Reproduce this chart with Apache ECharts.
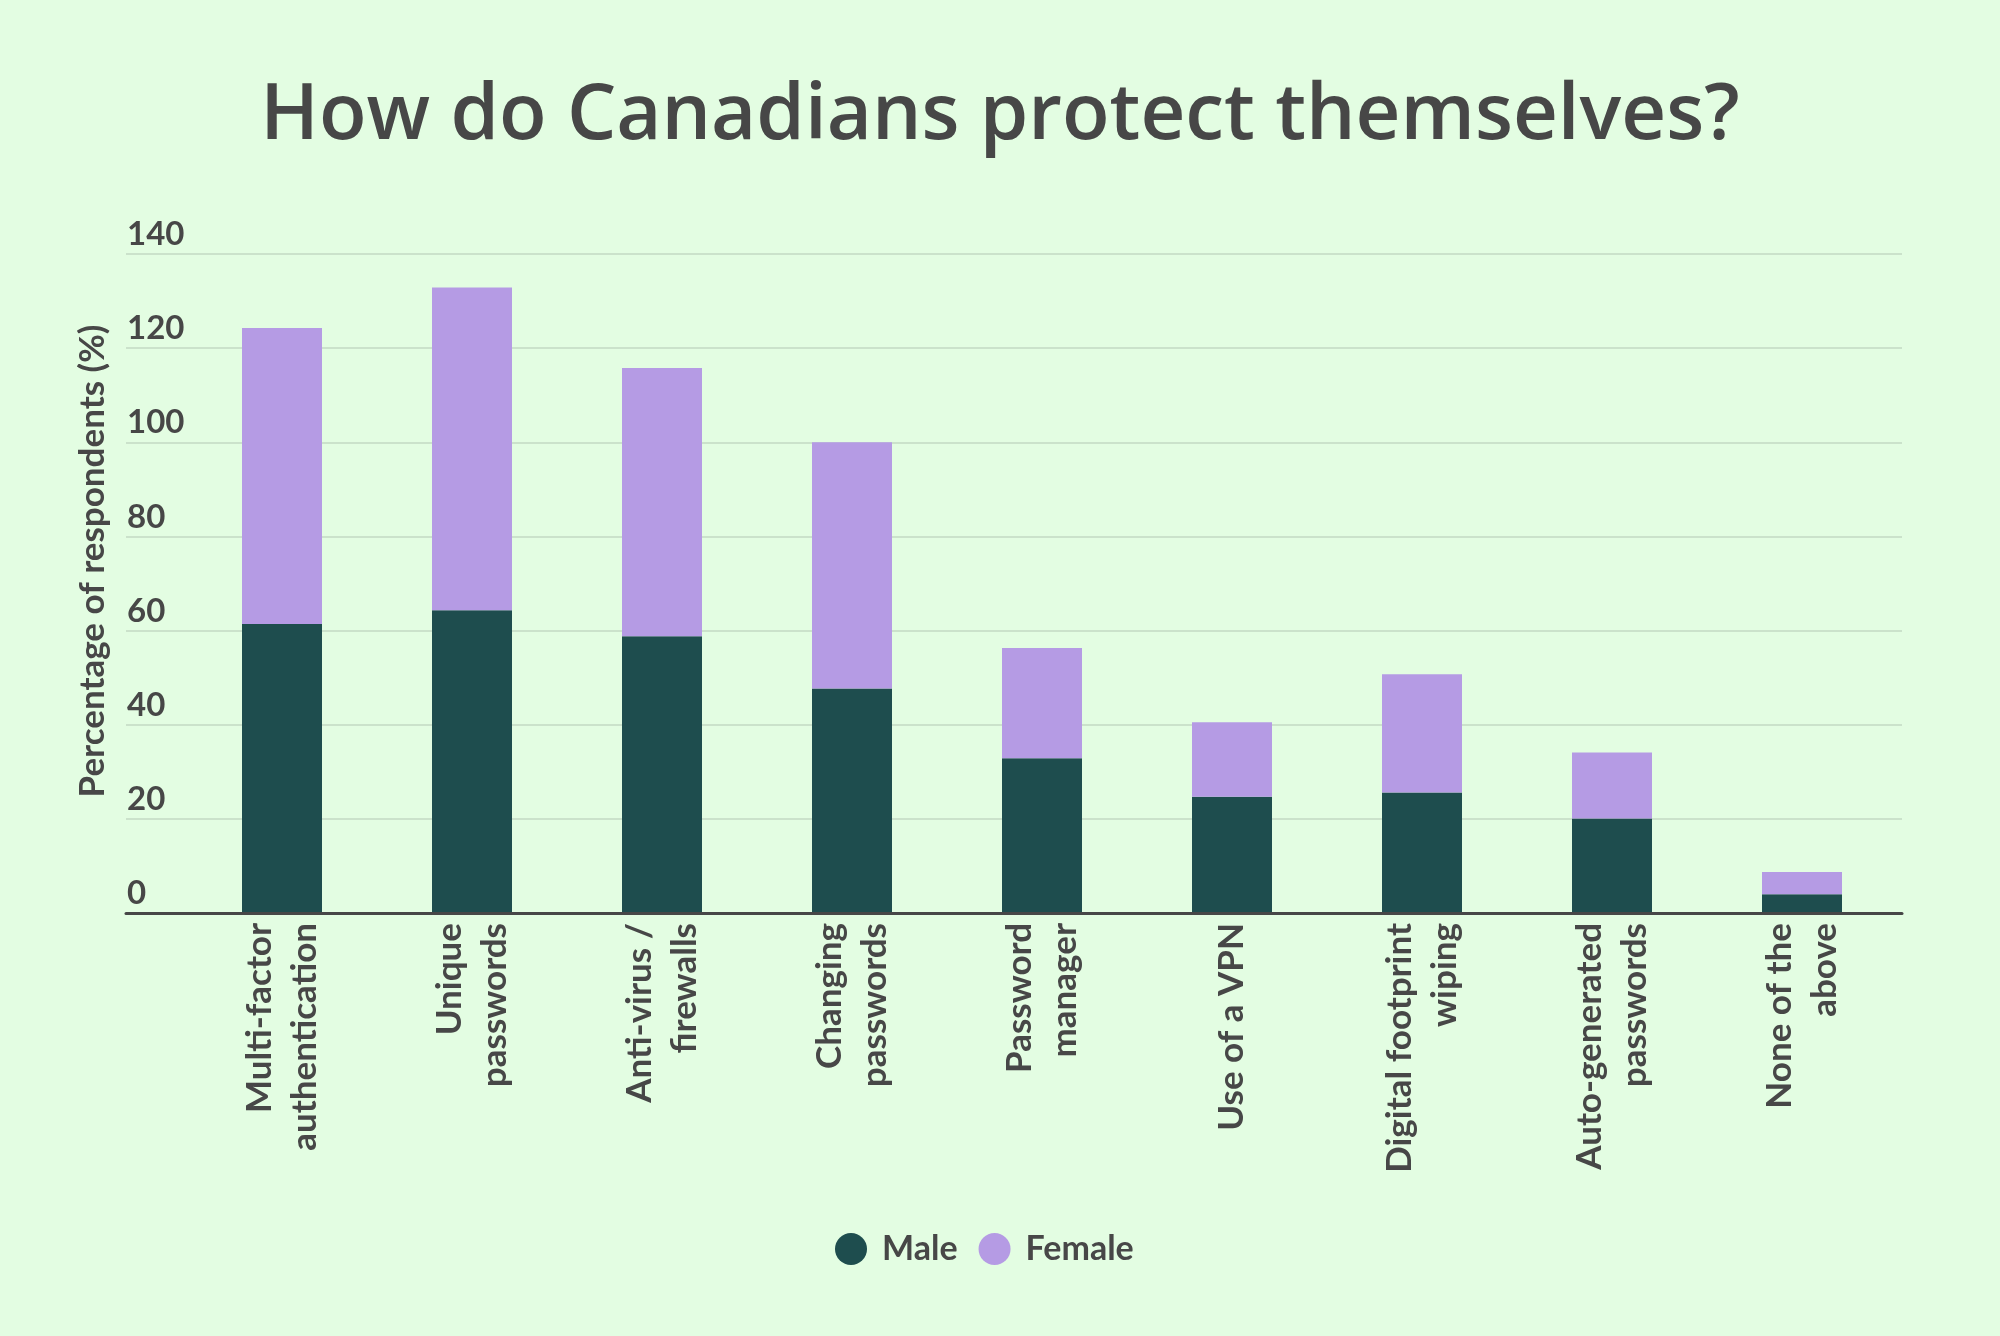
<!DOCTYPE html>
<html>
<head>
<meta charset="utf-8">
<script src="https://cdn.jsdelivr.net/npm/echarts@6/dist/echarts.min.js"></script>
<style>
html,body{margin:0;padding:0;background:#E3FDE2;}
#chart{width:2000px;height:1336px;}
</style>
</head>
<body>
<div id="chart"></div>
<script>
const categories = ['Multi-factor\nauthentication','Unique\npasswords','Anti-virus /\nfirewalls','Changing\npasswords','Password\nmanager','Use of a VPN','Digital footprint\nwiping','Auto-generated\npasswords','None of the\nabove'];
const maleValues = [61.4, 64.3, 58.8, 47.7, 32.9, 24.7, 25.6, 20.1, 4.0];
const femaleValues = [62.9, 68.6, 57.0, 52.3, 23.4, 15.8, 25.1, 14.0, 4.7];
const yTicks = {min: 0, max: 140, interval: 20};

const textColor = '#474747';
const chart = echarts.init(document.getElementById('chart'));
chart.setOption({
  backgroundColor: '#E3FDE2',
  title: {
    text: 'How do Canadians protect themselves?',
    left: 'center',
    top: 73,
    textStyle: {fontFamily: 'Open Sans', fontWeight: 600, fontSize: 78, color: textColor}
  },
  legend: {
    data: ['Male', 'Female'],
    left: 830,
    top: 1227,
    icon: 'circle',
    itemWidth: 32,
    itemHeight: 32,
    itemGap: 21,
    textStyle: {fontFamily: 'Lato', fontWeight: 'bold', fontSize: 34, color: textColor, padding: [0, 0, 0, 10]}
  },
  grid: [
    {left: 187, right: 103, top: 254, bottom: 423},
    {left: 126, right: 98, top: 254, bottom: 423}
  ],
  xAxis: [
    {
      type: 'category', gridIndex: 0, data: categories,
      axisLine: {show: false}, axisTick: {show: false},
      axisLabel: {rotate: 90, margin: 10, fontFamily: 'Lato', fontWeight: 'bold', fontSize: 35, lineHeight: 45, color: textColor, interval: 0}
    },
    {
      type: 'value', gridIndex: 1, min: 0, max: 1, z: 10,
      axisLine: {show: true, lineStyle: {color: textColor, width: 3}},
      axisTick: {show: false}, axisLabel: {show: false}, splitLine: {show: false}
    }
  ],
  yAxis: [
    {type: 'value', gridIndex: 0, min: yTicks.min, max: yTicks.max, interval: yTicks.interval, show: false},
    {
      type: 'value', gridIndex: 1, min: yTicks.min, max: yTicks.max, interval: yTicks.interval,
      name: 'Percentage of respondents (%)', nameLocation: 'middle', nameRotate: 90, nameGap: 16,
      nameTextStyle: {fontFamily: 'Lato', fontWeight: 'bold', fontSize: 35, color: textColor, padding: [0, 0, 0, 45]},
      axisLine: {show: false}, axisTick: {show: false},
      axisLabel: {inside: true, margin: 1, verticalAlign: 'bottom', padding: [0, 0, 3, 0], fontFamily: 'Lato', fontWeight: 'bold', fontSize: 33, color: textColor},
      splitLine: {show: true, lineStyle: {color: '#c3d8c3', width: 1.5}}
    }
  ],
  series: [
    {name: 'Male', type: 'bar', stack: 'total', xAxisIndex: 0, yAxisIndex: 0, barWidth: 80, data: maleValues, itemStyle: {color: '#1E4D4E'}},
    {name: 'Female', type: 'bar', stack: 'total', xAxisIndex: 0, yAxisIndex: 0, barWidth: 80, data: femaleValues, itemStyle: {color: '#B59BE4'}}
  ]
});
</script>
</body>
</html>
